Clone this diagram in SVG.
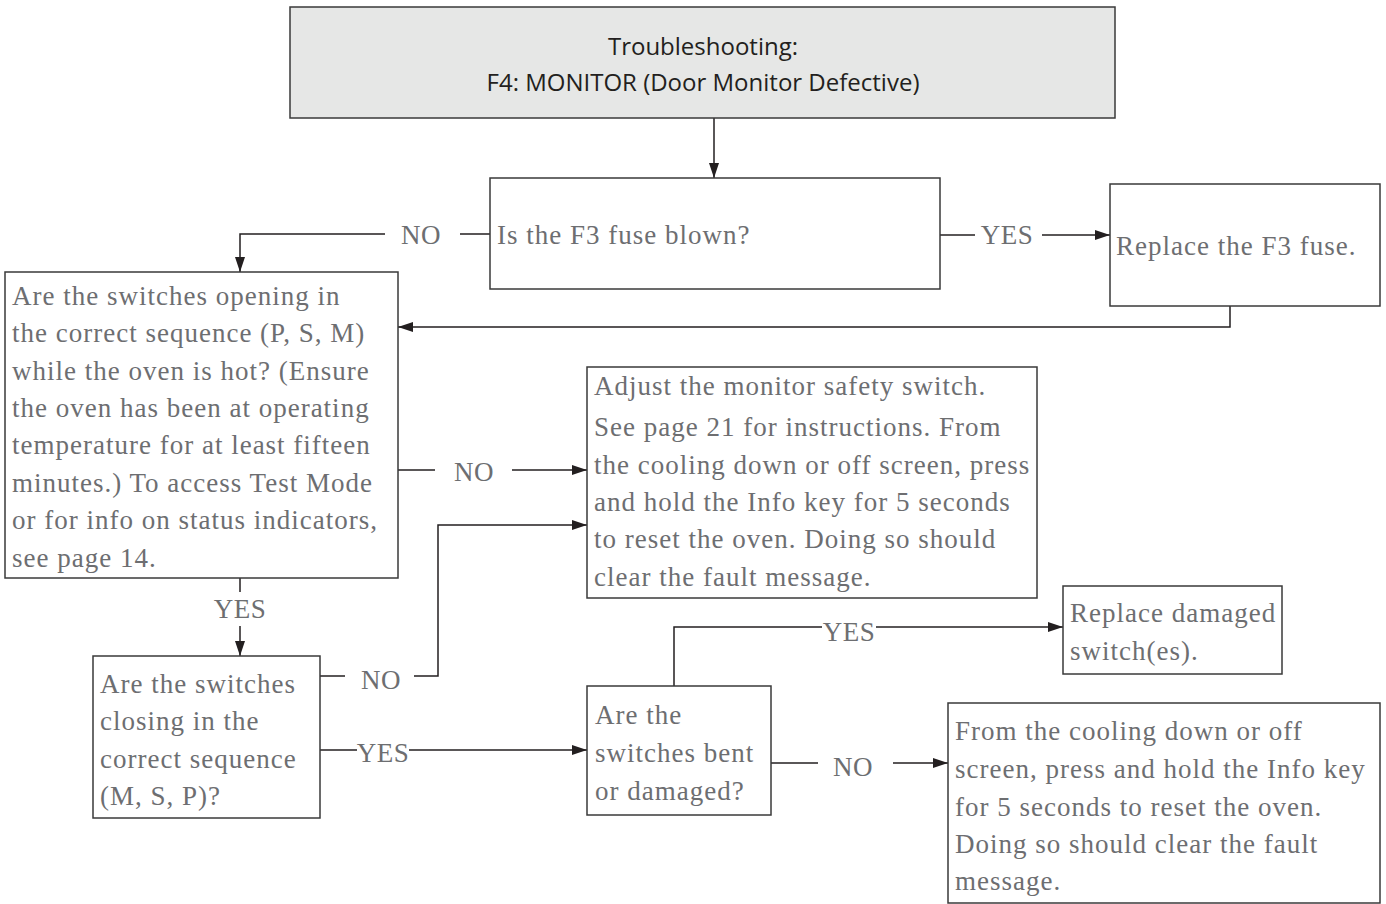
<svg xmlns="http://www.w3.org/2000/svg" width="1386" height="904" viewBox="0 0 1386 904">
<defs>
<marker id="ah" viewBox="0 0 15 10" refX="15" refY="5" markerWidth="15" markerHeight="10" markerUnits="userSpaceOnUse" orient="auto">
<path d="M0,0 L15,5 L0,10 z" fill="#231f20"/>
</marker>
<style>
.box{fill:#fff;stroke:#3a3a3a;stroke-width:1.5}
.title{fill:#e6e7e6;stroke:#3a3a3a;stroke-width:1.5}
.t{font-family:"Liberation Serif","Times New Roman",serif;font-size:27px;letter-spacing:1px;fill:#6d6e71}
.h{font-family:"Open Sans","Liberation Sans",sans-serif;font-size:24px;fill:#231f20;text-anchor:middle}
.c{fill:none;stroke:#231f20;stroke-width:1.5}
.lbl{font-family:"Liberation Serif","Times New Roman",serif;font-size:27px;letter-spacing:0.5px;fill:#6d6e71;text-anchor:middle}
</style>
</defs>
<rect width="1386" height="904" fill="#fff"/>
<g id="connectors">
<path class="c" d="M714,118 V178" marker-end="url(#ah)"/>
<path class="c" d="M490,234 H460 M385,234 H240 V272" marker-end="url(#ah)"/>
<path class="c" d="M940,235 H975"/>
<path class="c" d="M1042,235 H1110" marker-end="url(#ah)"/>
<path class="c" d="M1230,306 V327 H398" marker-end="url(#ah)"/>
<path class="c" d="M398,470 H435"/>
<path class="c" d="M512,470 H587" marker-end="url(#ah)"/>
<path class="c" d="M240,578 V592"/>
<path class="c" d="M240,626 V656" marker-end="url(#ah)"/>
<path class="c" d="M320,676 H345"/>
<path class="c" d="M414,676 H438 V525 H587" marker-end="url(#ah)"/>
<path class="c" d="M320,750 H357"/>
<path class="c" d="M409,750 H587" marker-end="url(#ah)"/>
<path class="c" d="M674,686 V627 H822"/>
<path class="c" d="M876,627 H1063" marker-end="url(#ah)"/>
<path class="c" d="M771,763 H818"/>
<path class="c" d="M893,763 H948" marker-end="url(#ah)"/>
<text class="lbl" x="421" y="244">NO</text>
<text class="lbl" x="1007" y="244">YES</text>
<text class="lbl" x="474" y="481">NO</text>
<text class="lbl" x="240" y="618">YES</text>
<text class="lbl" x="381" y="689">NO</text>
<text class="lbl" x="383" y="762">YES</text>
<text class="lbl" x="849" y="641">YES</text>
<text class="lbl" x="853" y="776">NO</text>
</g>
<g id="title">
<rect class="title" x="290" y="7" width="825" height="111"/>
<text class="h" x="703" y="55">Troubleshooting:</text>
<text class="h" x="703" y="91">F4: MONITOR (Door Monitor Defective)</text>
</g>
<g id="fuse-blown">
<rect class="box" x="490" y="178" width="450" height="111"/>
<text class="t" x="497" y="244">Is the F3 fuse blown?</text>
</g>
<g id="replace-fuse">
<rect class="box" x="1110" y="184" width="270" height="122"/>
<text class="t" x="1116" y="255">Replace the F3 fuse.</text>
</g>
<g id="opening-sequence">
<rect class="box" x="5" y="272" width="393" height="306"/>
<text class="t"><tspan x="12" y="305">Are the switches opening in</tspan><tspan x="12" y="342">the correct sequence (P, S, M)</tspan><tspan x="12" y="380">while the oven is hot? (Ensure</tspan><tspan x="12" y="417">the oven has been at operating</tspan><tspan x="12" y="454">temperature for at least fifteen</tspan><tspan x="12" y="492">minutes.) To access Test Mode</tspan><tspan x="12" y="529">or for info on status indicators,</tspan><tspan x="12" y="567">see page 14.</tspan></text>
</g>
<g id="adjust-switch">
<rect class="box" x="587" y="367" width="450" height="231"/>
<text class="t"><tspan x="594" y="395">Adjust the monitor safety switch.</tspan><tspan x="594" y="436">See page 21 for instructions. From</tspan><tspan x="594" y="474">the cooling down or off screen, press</tspan><tspan x="594" y="511">and hold the Info key for 5 seconds</tspan><tspan x="594" y="548">to reset the oven. Doing so should</tspan><tspan x="594" y="586">clear the fault message.</tspan></text>
</g>
<g id="closing-sequence">
<rect class="box" x="93" y="656" width="227" height="162"/>
<text class="t"><tspan x="100" y="693">Are the switches</tspan><tspan x="100" y="730">closing in the</tspan><tspan x="100" y="768">correct sequence</tspan><tspan x="100" y="805">(M, S, P)?</tspan></text>
</g>
<g id="bent-damaged">
<rect class="box" x="587" y="686" width="184" height="129"/>
<text class="t"><tspan x="595" y="724">Are the</tspan><tspan x="595" y="762">switches bent</tspan><tspan x="595" y="800">or damaged?</tspan></text>
</g>
<g id="replace-damaged">
<rect class="box" x="1063" y="586" width="219" height="88"/>
<text class="t"><tspan x="1070" y="622">Replace damaged</tspan><tspan x="1070" y="660">switch(es).</tspan></text>
</g>
<g id="reset-oven">
<rect class="box" x="948" y="703" width="432" height="200"/>
<text class="t"><tspan x="955" y="740">From the cooling down or off</tspan><tspan x="955" y="778">screen, press and hold the Info key</tspan><tspan x="955" y="816">for 5 seconds to reset the oven.</tspan><tspan x="955" y="853">Doing so should clear the fault</tspan><tspan x="955" y="890">message.</tspan></text>
</g>
</svg>
